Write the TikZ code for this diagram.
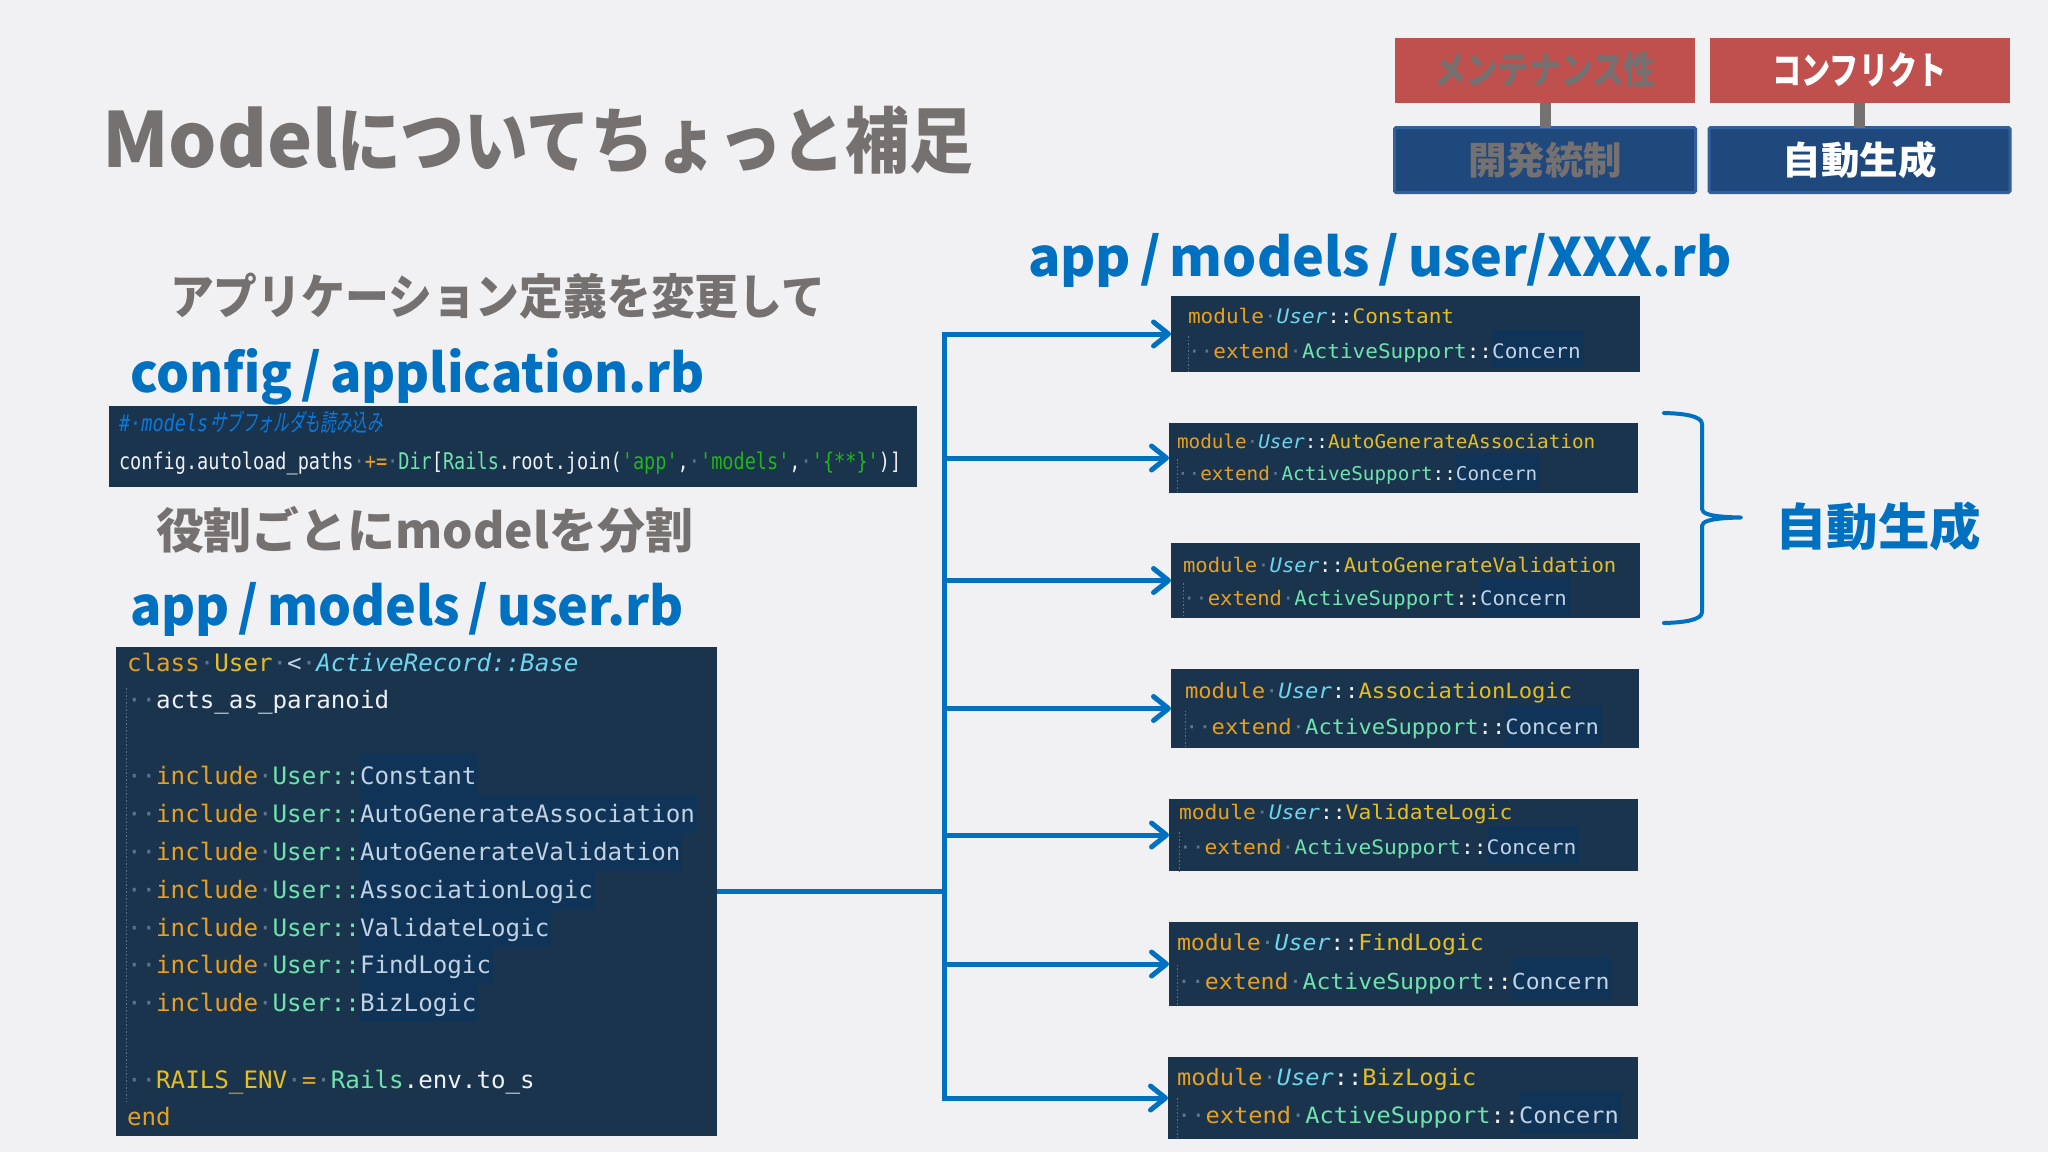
\documentclass[tikz,border=0pt]{standalone}
\usepackage{fontspec}
\usepackage{graphicx}
\usetikzlibrary{arrows.meta}
\newfontfamily\jpfont{Noto Sans CJK JP}
\newfontfamily\jpslant[FakeSlant=0.25]{Noto Sans CJK JP}
\newfontfamily\codef{DejaVu Sans Mono}
\definecolor{pagebg}{HTML}{F1F1F3}
\definecolor{codebg}{HTML}{1B344D}
\definecolor{hilite}{HTML}{0F3458}
\definecolor{ttlgray}{HTML}{767171}
\definecolor{flowblue}{HTML}{0070C0}
\definecolor{redfill}{HTML}{C0504D}
\definecolor{navyfill}{HTML}{1F497D}
\definecolor{navyline}{HTML}{31609B}
\definecolor{dimdot}{HTML}{5C7490}
\definecolor{korange}{HTML}{E8A020}
\definecolor{kyellow}{HTML}{E6BE22}
\definecolor{kgreen}{HTML}{6FE3AE}
\definecolor{kcyan}{HTML}{6CD6EE}
\definecolor{kpale}{HTML}{C3D2E2}
\definecolor{kwhite}{HTML}{EDF1F4}
\definecolor{kstr}{HTML}{22B41E}
\definecolor{kcomment}{HTML}{0A78DC}
\newcommand\D[1]{\textcolor{dimdot}{#1}}
\newcommand\K[1]{\textcolor{korange}{#1}}
\newcommand\Y[1]{\textcolor{kyellow}{#1}}
\newcommand\G[1]{\textcolor{kgreen}{#1}}
\newcommand\W[1]{\textcolor{kwhite}{#1}}
\newcommand\Pl[1]{\textcolor{kpale}{#1}}
\newcommand\Cy[1]{\textcolor{kcyan}{\itshape #1}}
\newcommand\St[1]{\textcolor{kstr}{#1}}
\newcommand\fitw[2]{\resizebox{#1pt}{\height}{#2}}
% name, x, baseline, content (uses \csz and \csx)
\newcommand\codeline[4]{\node[codetext] (#1) at (#2,#3) {\codef\fontsize{\csz}{\csz}\selectfont\scalebox{\csx}[1]{#4}};}
\tikzset{
  x=1pt,y=-1pt,
  codetext/.style={anchor=base west,inner sep=0pt,outer sep=0pt},
  codebox/.style={fill=codebg,draw=none,inner sep=0pt,outer sep=0pt},
  guide/.style={draw=dimdot,line width=1pt,dash pattern=on 1.5pt off 2pt},
  flow/.style={draw=flowblue,line width=5pt,line join=miter,-{Straight Barb[round,length=15pt,width=24pt,line width=5pt]}},
  heading/.style={anchor=base west,inner sep=0pt,outer sep=0pt,font=\jpfont\bfseries\fontsize{53}{53}\selectfont,text=flowblue},
  subhead/.style={anchor=base west,inner sep=0pt,outer sep=0pt,font=\jpfont\bfseries\fontsize{48}{48}\selectfont,text=ttlgray},
  redbox/.style={fill=redfill,draw=none,minimum width=300pt,minimum height=65pt,inner sep=0pt,outer sep=0pt,font=\jpfont\bfseries\fontsize{38}{38}\selectfont},
  navybox/.style={fill=navyfill,draw=navyline,line width=3pt,rounded corners=1.5pt,minimum width=301pt,minimum height=65pt,inner sep=0pt,outer sep=0pt,font=\jpfont\bfseries\fontsize{38}{38}\selectfont},
  link/.style={draw=ttlgray,line width=11pt},
}
\begin{document}
\begin{tikzpicture}
\fill[pagebg] (0,0) rectangle (2048,1152);
\useasboundingbox (0,0) rectangle (2048,1152);

% title
\node[anchor=base west,inner sep=0pt,text=ttlgray,font=\jpfont\bfseries\fontsize{76}{76}\selectfont] (title) at (102,167) {\fitw{236}{Model}};
\node[anchor=base west,inner sep=0pt,text=ttlgray,font=\jpfont\bfseries\fontsize{72}{72}\selectfont] (titlej) at (337,167) {\fitw{636}{についてちょっと補足}};

% top boxes
\node[redbox,text=ttlgray] (r1) at (1545,70.5) {\raisebox{-1pt}{\fitw{221}{メンテナンス性}}};
\node[redbox,text=white] (r2) at (1859.5,70.5) {\raisebox{-1pt}{\fitw{174}{コンフリクト}}};
\node[navybox,text=ttlgray] (n1) at (1545,160) {\fitw{154}{開発統制}};
\node[navybox,text=white] (n2) at (1859.5,160) {\fitw{154}{自動生成}};
\draw[link] (r1.south) -- (n1.north);
\draw[link] (r2.south) -- (n2.north);

% headings
\node[subhead] (h1) at (170,314) {\fitw{655}{アプリケーション定義を変更して}};
\node[heading] (h2) at (130,392) {\fitw{575}{config\,/\,application.rb}};
\node[subhead] (h3) at (156,548) {\fitw{537}{役割ごとにmodelを分割}};
\node[heading] (h4) at (130,625) {\fitw{554}{app\,/\,models\,/\,user.rb}};
\node[heading] (h5) at (1028,276) {\fitw{704}{app\,/\,models\,/\,user/XXX.rb}};

% config box
\node[codebox,minimum width=808pt,minimum height=81pt] (cfg) at (512.5,446.5) {};
\def\csz{23}\def\csx{0.807}
\codeline{cfg1}{119}{431}{\textcolor{kcomment}{\itshape \#·models·}}
\node[codetext,text=kcomment] (cfg1j) at (211,431) {\jpslant\fontsize{24}{24}\selectfont\fitw{172}{サブフォルダも読み込み}};
\codeline{cfg2}{119}{469}{\W{config.autoload\_paths}\D{·}\K{+=}\D{·}\G{Dir}\W{[}\G{Rails}\W{.root.join(}\St{'app'}\W{,}\D{·}\St{'models'}\W{,}\D{·}\St{'\{**\}'}\W{)]}}

% main code box
\node[codebox,minimum width=601.5pt,minimum height=489pt] (code) at (416.25,891.5) {};
\draw[guide] (126.5,688) -- (126.5,1102);
\foreach \yb/\nch in {784/8,822/23,860/22,898/16,936/13,973/9,1011/8}
  \fill[hilite] (359,\yb-27) rectangle ({359+\nch*14.55+3},\yb+11);
\fill[hilite] (359,753) rectangle ({359+8*14.55+3},760);
\def\csz{24}\def\csx{1.008}
\codeline{c1}{127}{671}{\K{class}\D{·}\Y{User}\D{·}\Pl{<}\D{·}\Cy{ActiveRecord::Base}}
\codeline{c2}{127}{708}{\D{··}\W{acts\_as\_paranoid}}
\codeline{c3}{127}{784}{\D{··}\K{include}\D{·}\G{User::}\Pl{Constant}}
\codeline{c4}{127}{822}{\D{··}\K{include}\D{·}\G{User::}\Pl{AutoGenerateAssociation}}
\codeline{c5}{127}{860}{\D{··}\K{include}\D{·}\G{User::}\Pl{AutoGenerateValidation}}
\codeline{c6}{127}{898}{\D{··}\K{include}\D{·}\G{User::}\Pl{AssociationLogic}}
\codeline{c7}{127}{936}{\D{··}\K{include}\D{·}\G{User::}\Pl{ValidateLogic}}
\codeline{c8}{127}{973}{\D{··}\K{include}\D{·}\G{User::}\Pl{FindLogic}}
\codeline{c9}{127}{1011}{\D{··}\K{include}\D{·}\G{User::}\Pl{BizLogic}}
\codeline{c10}{127}{1088}{\D{··}\Y{RAILS\_ENV}\D{·}\K{=}\D{·}\G{Rails}\W{.env.to\_s}}
\codeline{c11}{127}{1125}{\K{end}}

% module boxes: name/x0/y0/x1/y1/textx/base1/base2/size/charwidth/module
\foreach \n/\xa/\ya/\xb/\yb/\tx/\ba/\bb/\sz/\cw/\nm in {
  b1/1171/296/1640/372/1188/323/358/20/12.67/Constant,
  b2/1169/423/1638/493/1177/448/480/19/11.62/AutoGenerateAssociation,
  b3/1171/543/1640/618/1183/572/605/20/12.38/AutoGenerateValidation,
  b4/1171/669/1639/748/1185/698/734/21/13.35/AssociationLogic,
  b5/1169/799/1638/871/1179/819/854/20/12.82/ValidateLogic,
  b6/1169/922/1638/1006/1177/950/989/22/13.95/FindLogic,
  b7/1168/1057/1638/1139/1177/1085/1123/22.5/14.25/BizLogic}{
  \pgfmathsetmacro\wdd{\xb-\xa}
  \pgfmathsetmacro\htt{\yb-\ya}
  \pgfmathsetmacro\cx{(\xa+\xb)/2}
  \pgfmathsetmacro\cy{(\ya+\yb)/2}
  \pgfmathsetmacro\csx{\cw/(0.602*\sz)}
  \pgfmathsetmacro\hx{\tx+24*\cw}
  \pgfmathsetmacro\hxb{\tx+31*\cw+3}
  \pgfmathsetmacro\hya{\bb-1.4*\sz}
  \pgfmathsetmacro\hyb{\bb+0.5*\sz}
  \pgfmathsetmacro\gya{\bb-1.1*\sz}
  \def\csz{\sz}
  \node[codebox,minimum width=\wdd pt,minimum height=\htt pt] (\n) at (\cx,\cy) {};
  \fill[hilite] (\hx,\hya) rectangle (\hxb,\hyb);
  \draw[guide] (\tx,\gya) -- (\tx,\yb);
  \codeline{\n a}{\tx}{\ba}{\K{module}\D{·}\Cy{User}\W{::}\Y{\nm}}
  \codeline{\n e}{\tx}{\bb}{\D{··}\K{extend}\D{·}\G{ActiveSupport}\W{::}\Pl{Concern}}
}

% connectors
\coordinate (trunk) at (944,891.5);
\foreach \t in {b1,b2,b3,b4,b5,b6,b7}
  \draw[flow] (code.east) -- (trunk) |- (\t.west);

% brace and label
\draw[draw=flowblue,line width=4pt,line cap=round,line join=round]
  (1664,413) .. controls (1684,413.5) and (1702,416) .. (1702,424)
  -- (1702,509) .. controls (1702,513) and (1708,517) .. (1741,517.5)
  .. controls (1708,518) and (1702,522) .. (1702,526)
  -- (1702,612) .. controls (1702,620) and (1684,622.5) .. (1664,623);
\node[anchor=center,inner sep=0pt,text=flowblue,font=\jpfont\bfseries\fontsize{50}{50}\selectfont] (auto) at (1878,526) {\fitw{206}{自動生成}};
\end{tikzpicture}
\end{document}
